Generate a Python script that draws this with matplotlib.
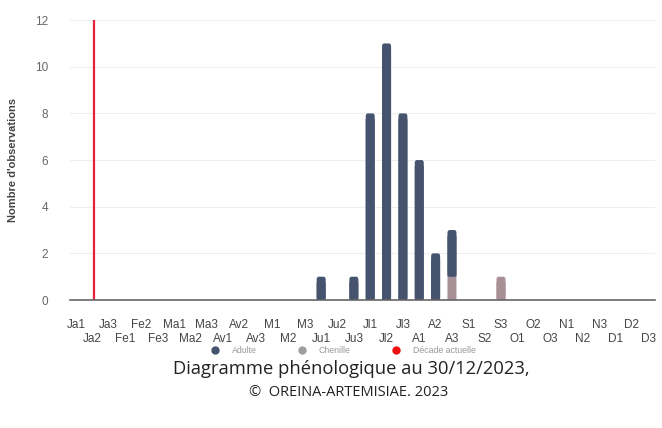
import numpy as np
import matplotlib
matplotlib.use("Agg")
import matplotlib.pyplot as plt
from matplotlib.patches import FancyBboxPatch
from matplotlib.lines import Line2D

plt.rcParams["font.family"] = ["Liberation Sans", "DejaVu Sans"]

decades = ["Ja1", "Ja2", "Ja3", "Fe1", "Fe2", "Fe3", "Ma1", "Ma2", "Ma3",
           "Av1", "Av2", "Av3", "M1", "M2", "M3", "Ju1", "Ju2", "Ju3",
           "Jl1", "Jl2", "Jl3", "A1", "A2", "A3", "S1", "S2", "S3",
           "O1", "O2", "O3", "N1", "N2", "N3", "D1", "D2", "D3"]
adulte = [0, 0, 0, 0, 0, 0, 0, 0, 0, 0, 0, 0, 0, 0, 0, 1, 0, 1,
          8, 11, 8, 6, 2, 2, 0, 0, 0, 0, 0, 0, 0, 0, 0, 0, 0, 0]
chenille = [0, 0, 0, 0, 0, 0, 0, 0, 0, 0, 0, 0, 0, 0, 0, 0, 0, 0,
            0, 0, 0, 0, 0, 1, 0, 0, 1, 0, 0, 0, 0, 0, 0, 0, 0, 0]
decade_actuelle = "Ja2"
y_ticks = [0, 2, 4, 6, 8, 10, 12]

c_adulte = "#46536f"
c_chenille = "#a89097"
c_red = "#e8203a"

fig = plt.figure(figsize=(6.62, 4.28), dpi=100)
ax = fig.add_axes([0.106, 0.299, 0.883, 0.654])

x = np.arange(len(decades))
width = 0.55
r = 0.12  # corner radius, data units


def rounded_bar(xc, y0, h, color, round_top):
    if h <= 0:
        return
    if not round_top:
        ax.bar(xc, h, width, bottom=y0, color=color, linewidth=0, zorder=3,
               snap=False)
        return
    # square lower part, rounded patch over the whole height for the top
    ax.bar(xc, h - 0.25, width, bottom=y0, color=color, linewidth=0,
           zorder=3, snap=False)
    patch = FancyBboxPatch((xc - width / 2, y0), width, h,
                           boxstyle=f"round,pad=0,rounding_size={r}",
                           facecolor=color, linewidth=0, zorder=3,
                           snap=False)
    ax.add_patch(patch)


for i in x:
    ch = chenille[i]
    ad = adulte[i]
    rounded_bar(i, 0, ch, c_chenille, ad == 0)
    rounded_bar(i, ch, ad, c_adulte, True)

ax.axvline(decades.index(decade_actuelle) + 0.1, color=c_red,
           linewidth=1.6, zorder=4)

ax.set_xlim(-0.35, len(decades) - 0.6)
ax.set_ylim(0, 12)
ax.set_yticks(y_ticks)
ax.set_yticklabels([str(v) for v in y_ticks], fontsize=8.5, color="#666666")
ax.tick_params(axis="y", length=0, pad=16)
ax.grid(axis="y", color="#eeeeee", linewidth=0.8, zorder=0)
ax.set_axisbelow(True)

# alternate the decade labels on two rows
ax.set_xticks(x[::2])
ax.set_xticklabels(decades[::2], fontsize=8.5, color="#444444")
ax.set_xticks(x[1::2], minor=True)
ax.set_xticklabels(decades[1::2], minor=True, fontsize=8.5, color="#444444")
ax.tick_params(axis="x", which="major", length=0, pad=14)
ax.tick_params(axis="x", which="minor", length=0, pad=24)

for s in ["top", "right", "left"]:
    ax.spines[s].set_visible(False)
ax.spines["bottom"].set_color("#666666")
ax.spines["bottom"].set_linewidth(1.2)
ax.spines["bottom"].set_zorder(5)

ax.set_ylabel("Nombre d'observations", fontsize=8, color="#444444",
              fontweight="bold", labelpad=12)

handles = [Line2D([], [], marker="o", linestyle="", color=c_adulte,
                  markersize=5),
           Line2D([], [], marker="o", linestyle="", color="#9e9e9e",
                  markersize=5),
           Line2D([], [], marker="o", linestyle="", color="#ee1111",
                  markersize=5)]
fig.legend(handles, ["Adulte", "Chenille", "Décade actuelle"],
           loc="center", bbox_to_anchor=(0.515, 0.181), ncol=3, frameon=False,
           fontsize=6.3, labelcolor="#999999", handletextpad=0.9,
           columnspacing=4.2, borderpad=0.1)

fig.text(0.53, 0.137, "Diagramme phénologique au 30/12/2023,",
         ha="center", va="center", fontsize=13.2, color="#222222",
         family=["Open Sans", "DejaVu Sans"])
fig.text(0.527, 0.082, "©  OREINA-ARTEMISIAE. 2023", ha="center",
         va="center", fontsize=10.5, color="#222222",
         family=["Open Sans", "DejaVu Sans"])

fig.savefig("out.png", dpi=100)
